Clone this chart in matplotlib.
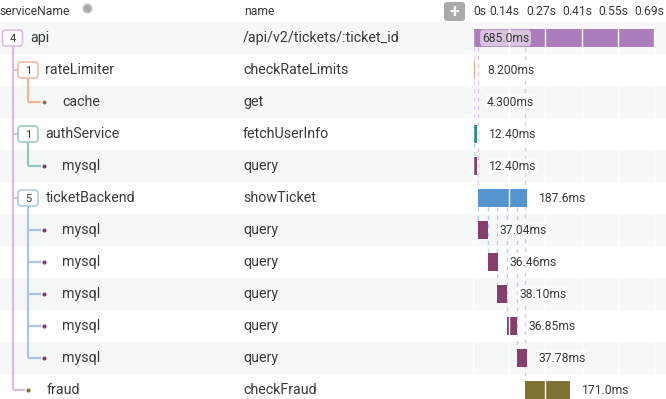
import matplotlib
matplotlib.use("Agg")
import matplotlib.pyplot as plt
from matplotlib.patches import FancyBboxPatch

plt.rcParams['font.family'] = ['Roboto', 'DejaVu Sans']

# ---------------- data ----------------
services = ['api', 'rateLimiter', 'cache', 'authService', 'mysql', 'ticketBackend',
            'mysql', 'mysql', 'mysql', 'mysql', 'mysql', 'fraud']
span_names = ['/api/v2/tickets/:ticket_id', 'checkRateLimits', 'get', 'fetchUserInfo', 'query',
              'showTicket', 'query', 'query', 'query', 'query', 'query', 'checkFraud']
parents = [-1, 0, 1, 0, 3, 0, 5, 5, 5, 5, 5, 0]
starts_ms = [0.0, 0.3, 1.0, 4.0, 4.0, 18.0, 19.0, 57.0, 91.0, 129.0, 166.0, 197.0]
durations_ms = [685.0, 8.2, 4.3, 12.4, 12.4, 187.6, 37.04, 36.46, 38.10, 36.85, 37.78, 171.0]
tick_ms = [0, 137, 274, 411, 548, 685]
tick_labels = ['0s', '0.14s', '0.27s', '0.41s', '0.55s', '0.69s']

service_colors = {'api': '#ab7dbc', 'rateLimiter': '#dc8a5c', 'cache': '#7a7a5c',
                  'authService': '#2b8f7d', 'mysql': '#853f6a', 'ticketBackend': '#5694d0',
                  'fraud': '#7e7232'}
light_colors = {'api': '#d7bde0', 'rateLimiter': '#f1b894', 'authService': '#8fcabd',
                'ticketBackend': '#a6c7ea'}

# ---------------- layout ----------------
W, H = 666, 399
DPI = 100
ROW_H = 32
TOP = 22
n = len(services)
y_top = -(TOP + ROW_H / 2) / ROW_H          # row units at pixel 0
y_bot = (H - TOP - ROW_H / 2) / ROW_H       # row units at pixel H
text_c = '#3a3a3a'
ROW_FS = 10.25

fig = plt.figure(figsize=(W / DPI, H / DPI), dpi=DPI)
fig.patch.set_facecolor('white')

# background / tree axes: x in pixels, y in rows
bg = fig.add_axes([0, 0, 1, 1])
bg.set_xlim(0, W)
bg.set_ylim(y_bot, y_top)
bg.axis('off')

for i in range(n):
    if i % 2 == 0:
        bg.axhspan(i - 0.5, i + 0.5, color='#f6f7f7', lw=0, zorder=0)

# depth
depth = []
for i in range(n):
    d, p = 0, parents[i]
    while p >= 0:
        d += 1
        p = parents[p]
    depth.append(d)
children = {i: [j for j in range(n) if parents[j] == i] for i in range(n)}

hdr_y = y_top + 11 / ROW_H
bg.text(0, hdr_y, 'serviceName', fontsize=8.7, color=text_c, va='center', ha='left')
bg.text(244, hdr_y, 'name', fontsize=8.7, color=text_c, va='center', ha='left')
bg.plot([86.5], [y_top + 7.5 / ROW_H], 'o', ms=6.5, mfc='#a9a9a9', mec='#d0d0d0', mew=1)
# plus button
plus = FancyBboxPatch((444, y_top + 2 / ROW_H), 21, 19 / ROW_H,
                      boxstyle='round,pad=0,rounding_size=3', fc='#aaaaaa', ec='none',
                      mutation_aspect=1 / ROW_H)
bg.add_patch(plus)
bg.text(454.5, y_top + 12 / ROW_H, '+', fontsize=13, color='white', ha='center', va='center',
        fontweight='bold')

px_per_row = ROW_H
for i in range(n):
    d = depth[i]
    cx = 12.5 + 15.5 * d
    svc = services[i]
    if children[i]:
        lc = light_colors[svc]
        last = max(children[i])
        bg.plot([cx, cx], [i + 8 / px_per_row, last], color=lc, lw=1.6, zorder=1,
                solid_capstyle='butt')
        for c in children[i]:
            if children[c]:
                x_end = cx + 15.5 - 10.5
            else:
                x_end = cx + 13
            bg.plot([cx, x_end], [c, c], color=lc, lw=1.6, zorder=1, solid_capstyle='butt')
        bw, bh = 20, 16
        badge = FancyBboxPatch((cx - bw / 2, i - bh / 2 / px_per_row), bw, bh / px_per_row,
                               boxstyle='round,pad=0,rounding_size=3.5', fc='white', ec=lc,
                               lw=1.1, zorder=2, mutation_aspect=1 / px_per_row)
        bg.add_patch(badge)
        bg.text(cx, i + 0.02, str(len(children[i])), fontsize=8, color=text_c,
                ha='center', va='center', zorder=3)
        tx = cx + 17.5
    else:
        bg.plot([cx], [i], 'o', ms=4.0, mfc=service_colors[svc], mec='white', mew=1.0, zorder=3)
        tx = cx + 18.5
    bg.text(tx, i, svc, fontsize=ROW_FS, color=text_c, va='center', ha='left', zorder=3)
    bg.text(243, i, span_names[i], fontsize=ROW_FS, color=text_c, va='center', ha='left', zorder=3)

# ---------------- timeline axes ----------------
X0 = 473
PX_PER_MS = 181.0 / 685.0
ax = fig.add_axes([X0 / W, 0, (W - X0) / W, 1])
ax.set_xlim(0, (W - X0) / PX_PER_MS)
ax.set_ylim(y_bot, y_top)
ax.axis('off')
ax.patch.set_alpha(0)

bar_h = 18 / ROW_H
for i in range(n):
    p = parents[i]
    if p >= 0:
        ax.plot([starts_ms[i], starts_ms[i]], [p + bar_h / 2, i - bar_h / 2],
                color=light_colors[services[p]], lw=1.0, ls=(0, (3, 3)), alpha=0.8, zorder=1)

for i in range(n):
    ax.barh(i, durations_ms[i], left=starts_ms[i], height=bar_h,
            color=service_colors[services[i]], lw=0, zorder=2)

for t in tick_ms:
    ax.plot([t, t], [-0.5, y_bot], color='white', lw=1.0, zorder=3)

for k, (t, lab) in enumerate(zip(tick_ms, tick_labels)):
    if k == 0:
        ax.annotate(lab, (t, hdr_y), xytext=(0, 0), textcoords='offset pixels',
                    ha='left', va='center', fontsize=8.7, color=text_c, annotation_clip=False)
    else:
        ax.annotate(lab, (t, hdr_y), xytext=(-4.5, 0), textcoords='offset pixels',
                    ha='center', va='center', fontsize=8.7, color=text_c, annotation_clip=False)

for i in range(n):
    lab = f"{durations_ms[i]:#.4g}ms"
    end = starts_ms[i] + durations_ms[i]
    if (end * PX_PER_MS + 12 + 55) > (W - X0):
        xy, off = (starts_ms[i], i), 9
    else:
        xy, off = (end, i), 12
    ax.annotate(lab, xy, xytext=(off, 0), textcoords='offset pixels', ha='left', va='center',
                fontsize=8.7, color=text_c, zorder=5, annotation_clip=False,
                bbox=dict(boxstyle='round,pad=0.15,rounding_size=0.3', fc='white', alpha=0.55,
                          ec='none'))

fig.savefig('out.png', dpi=DPI)
